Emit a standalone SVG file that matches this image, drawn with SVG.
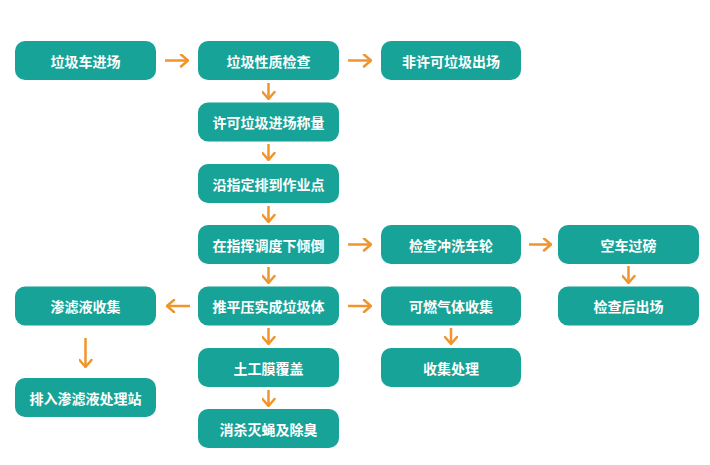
<svg xmlns="http://www.w3.org/2000/svg" width="710" height="465" viewBox="0 0 710 465">
<defs>
<style>
.n rect{fill:#17a398;}
.n text{fill:#fff;font-family:"Noto Sans CJK SC","Noto Sans",sans-serif;font-weight:bold;font-size:14px;text-anchor:middle;dominant-baseline:central;}
.c path{stroke:#f0952b;stroke-width:2.5;fill:none;marker-end:url(#ah);}
</style>
<marker id="ah" viewBox="0 0 10 14" refX="9" refY="7" markerWidth="10" markerHeight="14" markerUnits="userSpaceOnUse" orient="auto">
<path d="M2,1 L9,7 L2,13" fill="none" stroke="#f0952b" stroke-width="2.5" stroke-linecap="round" stroke-linejoin="round"/>
</marker>
</defs>
<rect width="710" height="465" fill="#fff"/>
<g class="c">
<path d="M165,60.5 H188"/>
<path d="M348,60.5 H371"/>
<path d="M268.5,83 V99"/>
<path d="M268.5,144 V160"/>
<path d="M268.5,206 V222"/>
<path d="M268.5,267 V283"/>
<path d="M268.5,328 V344"/>
<path d="M268.5,390 V406"/>
<path d="M348,244.5 H371"/>
<path d="M529,244.5 H551"/>
<path d="M628.5,266 V283"/>
<path d="M348,306 H371"/>
<path d="M451,328 V344"/>
<path d="M190,306 H167"/>
<path d="M85.5,338 V367"/>
</g>
<g id="n1" class="n"><rect x="15" y="41" width="141" height="39" rx="10"/><text x="85.5" y="60.5">垃圾车进场</text></g>
<g id="n2" class="n"><rect x="198" y="41" width="141" height="39" rx="10"/><text x="268.5" y="60.5">垃圾性质检查</text></g>
<g id="n3" class="n"><rect x="381" y="41" width="140" height="39" rx="10"/><text x="451" y="60.5">非许可垃圾出场</text></g>
<g id="n4" class="n"><rect x="198" y="102.5" width="141" height="39" rx="10"/><text x="268.5" y="122">许可垃圾进场称量</text></g>
<g id="n5" class="n"><rect x="198" y="164" width="141" height="39" rx="10"/><text x="268.5" y="183.5">沿指定排到作业点</text></g>
<g id="n6" class="n"><rect x="198" y="225" width="141" height="39" rx="10"/><text x="268.5" y="244.5">在指挥调度下倾倒</text></g>
<g id="n7" class="n"><rect x="381" y="225" width="140" height="39" rx="10"/><text x="451" y="244.5">检查冲洗车轮</text></g>
<g id="n8" class="n"><rect x="558" y="225" width="141" height="39" rx="10"/><text x="628.5" y="244.5">空车过磅</text></g>
<g id="n9" class="n"><rect x="198" y="286.5" width="141" height="39" rx="10"/><text x="268.5" y="306">推平压实成垃圾体</text></g>
<g id="n10" class="n"><rect x="381" y="286.5" width="140" height="39" rx="10"/><text x="451" y="306">可燃气体收集</text></g>
<g id="n11" class="n"><rect x="558" y="286.5" width="141" height="39" rx="10"/><text x="628.5" y="306">检查后出场</text></g>
<g id="n12" class="n"><rect x="15" y="286.5" width="141" height="39" rx="10"/><text x="85.5" y="306">渗滤液收集</text></g>
<g id="n13" class="n"><rect x="198" y="348" width="141" height="39" rx="10"/><text x="268.5" y="367.5">土工膜覆盖</text></g>
<g id="n14" class="n"><rect x="381" y="348" width="140" height="39" rx="10"/><text x="451" y="367.5">收集处理</text></g>
<g id="n15" class="n"><rect x="15" y="378" width="141" height="39" rx="10"/><text x="85.5" y="397.5">排入渗滤液处理站</text></g>
<g id="n16" class="n"><rect x="198" y="409" width="141" height="39" rx="10"/><text x="268.5" y="428.5">消杀灭蝇及除臭</text></g>
</svg>
